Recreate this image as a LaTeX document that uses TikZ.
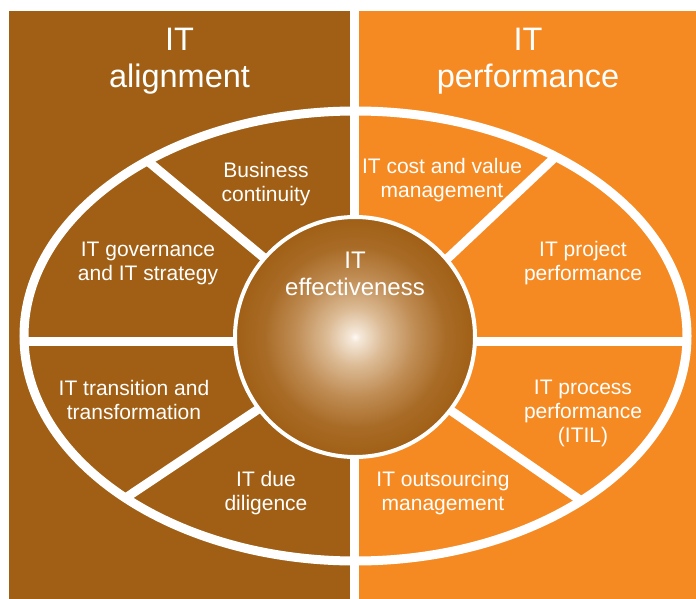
\documentclass[tikz,border=0pt]{standalone}
\usepackage{fontspec}
\setmainfont{Liberation Sans}
\definecolor{itbrown}{HTML}{A05F15}
\definecolor{itorange}{HTML}{F68A22}
\pgfdeclareradialshading{itglow}{\pgfpoint{0bp}{0bp}}{%
  rgb(0bp)=(1,0.98,0.96);
  rgb(1bp)=(0.96,0.91,0.85);
  rgb(6bp)=(0.86,0.73,0.58);
  rgb(12.5bp)=(0.75,0.55,0.33);
  rgb(19bp)=(0.66,0.42,0.15);
  rgb(25bp)=(0.627,0.373,0.082);
  rgb(50bp)=(0.627,0.373,0.082)}
\begin{document}
\begin{tikzpicture}[x=1pt,y=-1pt,
  lbl/.style={text=white, align=center, font=\fontsize{21}{24}\selectfont, inner sep=0pt},
  ttl/.style={text=white, align=center, font=\fontsize{32.5}{37}\selectfont, inner sep=0pt},
  divider/.style={white, line width=9pt},
]
\useasboundingbox (0,0) rectangle (696,599);
% panels
\fill[itbrown] (9,11) rectangle (350,599);
\fill[itorange] (359,11) rectangle (696,599);
% ellipse
\coordinate (E) at (355.5,336);
\draw[divider] (E) ellipse [x radius=331.5, y radius=225];
% dividers
\coordinate (eL) at (24,341);
\coordinate (eR) at (687,341);
\draw[divider] (eL) -- (eR);
\coordinate (e1) at (150,163); \coordinate (c1) at (263,257);
\coordinate (e2) at (552,160); \coordinate (c2) at (448,258);
\coordinate (e3) at (127,497); \coordinate (c3) at (257,410);
\coordinate (e4) at (580,500); \coordinate (c4) at (450,410);
\foreach \i in {1,2,3,4} {
  \draw[divider, shorten >=-14pt, shorten <=-2pt] (e\i) -- (c\i);
}
% vertical gap
\fill[white] (350,0) rectangle (359,599);
% centre circle
\coordinate (O) at (355,337);
\fill[shading=itglow] (O) circle (120);
\draw[white, line width=4pt] (O) circle (120);
% titles
\node[ttl] (tA) at (179.5,60.7) {IT\\alignment};
\node[ttl] (tP) at (528,60.7) {IT\\performance};
% labels
\node[lbl] (bc) at (266,183.8) {Business\\continuity};
\node[lbl] (cv) at (442,180.2) {IT cost and value\\management};
\node[lbl] (gov) at (148,263.2) {IT governance\\and IT strategy};
\node[lbl] (pp) at (583,263.2) {IT project\\performance};
\node[text=white, align=center, font=\fontsize{24}{27}\selectfont, inner sep=0pt] (eff) at (355,273.5) {IT\\effectiveness};
\node[lbl] (tt) at (134,399.5) {IT transition and\\transformation};
\node[lbl] (proc) at (583,413.5) {IT process\\performance\\(ITIL)};
\node[lbl] (dd) at (266,493) {IT due\\diligence};
\node[lbl] (om) at (443,493) {IT outsourcing\\management};
\end{tikzpicture}
\end{document}
